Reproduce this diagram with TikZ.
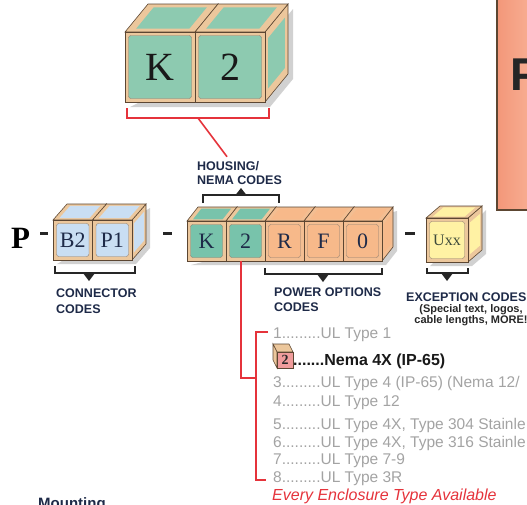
\documentclass[tikz,border=0pt]{standalone}
\usepackage{fontspec}
\setmainfont{Liberation Serif}
\setsansfont{Liberation Sans}
\usetikzlibrary{calc,backgrounds}

\definecolor{frametan}{HTML}{ECC79C}
\definecolor{framepeach}{HTML}{F3BE92}
\definecolor{cubeline}{HTML}{5C4632}
\definecolor{tealbig}{HTML}{8DCAB0}
\definecolor{tealcode}{HTML}{78C3AB}
\definecolor{peachcode}{HTML}{F7B98A}
\definecolor{skycode}{HTML}{C9DEF3}
\definecolor{yellowcode}{HTML}{FFF2A4}
\definecolor{redline}{HTML}{E5333B}
\definecolor{labelnavy}{HTML}{1E2A48}
\definecolor{listgrey}{HTML}{A3A3A3}
\definecolor{salmonL}{HTML}{F39779}
\definecolor{salmonR}{HTML}{FAB89E}
\definecolor{pinkface}{HTML}{F09C9C}
\definecolor{uxxtext}{HTML}{3E4A3A}

\tikzset{
  cubeedge/.style={draw=cubeline, line width=0.6pt},
  cubeinset/.style={draw=cubeline!70, line width=0.4pt},
  cubeshadow/.style={fill=black, opacity=0.18},
  bracketline/.style={draw=black!85, line width=1.3pt},
  brackettip/.style={fill=black!85},
  redlink/.style={draw=redline, line width=1.6pt},
  codelabel/.style={font=\sffamily\bfseries\fontsize{12.5}{14.5}\selectfont, text=labelnavy,
    align=left, inner sep=0, anchor=base west},
  listitem/.style={font=\sffamily\fontsize{15.5}{18}\selectfont, text=listgrey,
    inner sep=0, anchor=base west},
}

% #1 name, #2,#3 top-left of front face, #4 width, #5 height,
% #6,#7 depth offset, #8 inset colour, #9 frame colour
\newcommand\codecube[9]{%
  \coordinate (#1-tl) at (#2,#3);
  \coordinate (#1-tr) at ($(#1-tl)+(#4,0)$);
  \coordinate (#1-br) at ($(#1-tl)+(#4,#5)$);
  \coordinate (#1-bl) at ($(#1-tl)+(0,#5)$);
  \coordinate (#1-ttl) at ($(#1-tl)+(#6,#7)$);
  \coordinate (#1-ttr) at ($(#1-tr)+(#6,#7)$);
  \coordinate (#1-tbr) at ($(#1-br)+(#6,#7)$);
  \filldraw[cubeedge, fill=#9] (#1-tr) -- (#1-ttr) -- (#1-tbr) -- (#1-br) -- cycle;
  \fill[#8] ($(#1-tr)!0.14!(#1-tbr)$) -- ($(#1-ttr)!0.14!(#1-br)$)
     -- ($(#1-tbr)!0.14!(#1-tr)$) -- ($(#1-br)!0.14!(#1-ttr)$) -- cycle;
  \filldraw[cubeedge, fill=#9] (#1-tl) -- (#1-ttl) -- (#1-ttr) -- (#1-tr) -- cycle;
  \fill[#8] ($(#1-tl)!0.12!(#1-ttr)$) -- ($(#1-ttl)!0.12!(#1-tr)$)
     -- ($(#1-ttr)!0.12!(#1-tl)$) -- ($(#1-tr)!0.12!(#1-ttl)$) -- cycle;
  \filldraw[cubeedge, fill=#9] (#1-tl) rectangle (#1-br);
  \filldraw[cubeinset, fill=#8, rounded corners=2.5]
     ($(#1-tl)+(3.5,3.5)$) rectangle ($(#1-br)+(-3.5,-3.5)$);
}

\begin{document}
\begin{tikzpicture}[x=1pt, y=-1pt]
\useasboundingbox (0,0) rectangle (527,504);

% title panel on the right
\shade[left color=salmonL, right color=salmonR] (497,-5) rectangle (545,210);
\draw[draw=cubeline, line width=1.3pt] (545,210) -- (497,210) -- (497,-5);
\node[font=\sffamily\bfseries\fontsize{46}{46}\selectfont, text=black!85, inner sep=0,
  anchor=base west] (paneltitle) at (510,90) {P};

% large housing cubes
\codecube{bk}{125}{32}{70}{70}{23}{-28}{tealbig}{frametan}
\codecube{bt}{195}{32}{70}{70}{23}{-28}{tealbig}{frametan}
\node[font=\fontsize{40}{40}\selectfont, text=black!90] (bigk) at ($(bk-tl)!0.5!(bk-br)$) {K};
\node[font=\fontsize{40}{40}\selectfont, text=black!90] (bigtwo) at ($(bt-tl)!0.5!(bt-br)$) {2};

% connector cubes
\codecube{cb}{53}{220}{39.5}{40}{14}{-16}{skycode}{frametan}
\codecube{cp}{92.5}{220}{39.5}{40}{14}{-16}{skycode}{frametan}
\node[font=\fontsize{22}{22}\selectfont, text=labelnavy] (btwo) at ($(cb-tl)!0.5!(cb-br)$) {B2};
\node[font=\fontsize{22}{22}\selectfont, text=labelnavy] (pone) at ($(cp-tl)!0.5!(cp-br)$) {P1};

% housing and power cubes
\codecube{ck}{187}{221}{39}{40}{11}{-14}{tealcode}{frametan}
\codecube{c2}{226}{221}{39}{40}{11}{-14}{tealcode}{frametan}
\codecube{cr}{265}{221}{39}{40}{11}{-14}{peachcode}{framepeach}
\codecube{cf}{304}{221}{39}{40}{11}{-14}{peachcode}{framepeach}
\codecube{c0}{343}{221}{39}{40}{11}{-14}{peachcode}{framepeach}
\foreach \n/\t in {ck/K, c2/2, cr/R, cf/F, c0/0}
  \node[font=\fontsize{22}{22}\selectfont, text=labelnavy] (\n-txt) at ($(\n-tl)!0.5!(\n-br)$) {\t};

% exception cube
\codecube{cu}{426}{218}{42}{44}{14}{-12}{yellowcode}{frametan}
\node[font=\fontsize{16}{16}\selectfont, text=uxxtext] (uxx) at ($(cu-tl)!0.5!(cu-br)$) {Uxx};

% drop shadows
\begin{pgfonlayer}{background}
  \fill[cubeshadow] ($(bk-bl)+(5,5)$) -- ($(bt-br)+(5,5)$) -- ($(bt-tbr)+(5,5)$)
     -- ($(bt-ttr)+(5,5)$) -- ($(bt-tr)+(5,5)$) -- cycle;
  \fill[cubeshadow] ($(cb-bl)+(4,4)$) -- ($(cp-br)+(4,4)$) -- ($(cp-tbr)+(4,4)$)
     -- ($(cp-ttr)+(4,4)$) -- cycle;
  \fill[cubeshadow] ($(ck-bl)+(4,4)$) -- ($(c0-br)+(4,4)$) -- ($(c0-tbr)+(4,4)$)
     -- ($(c0-ttr)+(4,4)$) -- cycle;
  \fill[cubeshadow] ($(cu-bl)+(4,4)$) -- ($(cu-br)+(4,4)$) -- ($(cu-tbr)+(4,4)$)
     -- ($(cu-ttr)+(4,4)$) -- cycle;
\end{pgfonlayer}

% leading P and separating dashes
\node[font=\bfseries\fontsize{31}{31}\selectfont, text=black, inner sep=0, anchor=base west]
  (lead) at (11,248) {P};
\draw[line width=3pt, black!85] (40,233) -- (48,233);
\draw[line width=3pt, black!85] (163,233) -- (172,233);
\draw[line width=3pt, black!85] (405,233) -- (415,233);

% red bracket under the large cubes, pointing to the housing label
\node[codelabel, font=\sffamily\bfseries\fontsize{12.5}{14}\selectfont] (housing) at (197,184) {HOUSING/\\NEMA CODES};
\coordinate (hbmid) at ($(bk-bl)+(73,16)$);
\draw[redlink] ($(bk-bl)+(2,6)$) -- ($(bk-bl)+(2,16)$) -- ($(bt-br)+(4,16)$) -- ($(bt-br)+(4,6)$);
\draw[redlink] (hbmid) -- ($(housing.north west)+(30,-4)$);

% bracket above the housing cubes
\draw[bracketline] ($(ck-ttl)+(5,-4)$) -- ($(ck-ttl)+(5,-12)$) -- ($(c2-ttr)+(3,-12)$) -- ($(c2-ttr)+(3,-4)$);
\fill[brackettip] ($(c2-ttl)+(4,-12)$) -- ++(-5.5,0) -- ++(5.5,-7) -- ++(5.5,7) -- cycle;

% brackets below the code groups
\draw[bracketline] ($(cb-bl)+(2,6)$) -- ($(cb-bl)+(2,13)$) -- ($(cp-br)+(3,13)$) -- ($(cp-br)+(3,6)$);
\fill[brackettip] ($(cp-bl)+(-3.5,13)$) -- ++(6,0) -- ++(-6,8) -- ++(-6,-8) -- cycle;
\node[codelabel] (connlabel) at (56,313) {CONNECTOR\\[1.5pt]CODES};

\draw[bracketline] ($(cr-bl)+(0,7)$) -- ($(cr-bl)+(0,13)$) -- ($(c0-br)+(0,13)$) -- ($(c0-br)+(0,7)$);
\fill[brackettip] ($(cf-bl)+(19,13)$) -- ++(6,0) -- ++(-6,8) -- ++(-6,-8) -- cycle;
\node[codelabel] (powerlabel) at (274,311) {POWER OPTIONS\\CODES};

\draw[bracketline] ($(cu-bl)+(1,6)$) -- ($(cu-bl)+(1,11)$) -- ($(cu-br)+(0,11)$) -- ($(cu-br)+(0,6)$);
\fill[brackettip] ($(cu-bl)+(21,11)$) -- ++(6,0) -- ++(-6,8) -- ++(-6,-8) -- cycle;
\node[codelabel] (exclabel) at (406,301) {EXCEPTION CODES};
\node[font=\sffamily\bfseries\fontsize{11}{12}\selectfont, text=black!85, inner sep=0, anchor=base]
  (excnote1) at (471,312) {(Special text, logos,};
\node[font=\sffamily\bfseries\fontsize{11}{12}\selectfont, text=black!85, inner sep=0, anchor=base]
  (excnote2) at (471,323.5) {cable lengths, MORE!};

% enclosure list
\node[listitem] (l1) at (273,338) {1.........UL Type 1};
\node[font=\sffamily\bfseries\fontsize{16}{18}\selectfont, text=black!90, inner sep=0, anchor=base west]
  (l2) at (293,365) {.......Nema 4X (IP-65)};
\node[listitem] (l3) at (273,387) {3.........UL Type 4 (IP-65) (Nema 12/};
\node[listitem] (l4) at (273,406) {4.........UL Type 12};
\node[listitem] (l5) at (273,429) {5.........UL Type 4X, Type 304 Stainle};
\node[listitem] (l6) at (273,447) {6.........UL Type 4X, Type 316 Stainle};
\node[listitem] (l7) at (273,464) {7.........UL Type 7-9};
\node[listitem] (l8) at (273,482) {8.........UL Type 3R};
\node[font=\sffamily\itshape\fontsize{16}{18}\selectfont, text=redline, inner sep=0, anchor=base west]
  (every) at (272,500) {\underline{Every Enclosure Type Available}};

% small marker cube for the selected enclosure
\filldraw[cubeedge, fill=frametan] (277,352) -- (273,344) -- (289,344) -- (293,352) -- cycle;
\filldraw[cubeedge, fill=frametan] (277,352) -- (273,344) -- (273,360) -- (277,368) -- cycle;
\filldraw[cubeedge, fill=pinkface, line width=0.8pt] (277,352) rectangle (293,368);
\node[font=\bfseries\fontsize{14}{14}\selectfont, text=black!85] (marker) at (285,360) {2};

% red link from the housing digit to the list
\coordinate (listtop) at (256,332);
\coordinate (listbot) at (256,480);
\coordinate (listjoin) at (256,378);
\draw[redlink] ($(c2-bl)+(15,0)$) |- (listjoin);
\draw[redlink] ($(listtop)+(12,0)$) -- (listtop) -- (listbot) -- ($(listbot)+(10,0)$);

% mounting heading
\node[font=\sffamily\bfseries\fontsize{15}{16}\selectfont, text=labelnavy, inner sep=0, anchor=base west]
  (mounting) at (38,508) {Mounting};
\end{tikzpicture}
\end{document}
